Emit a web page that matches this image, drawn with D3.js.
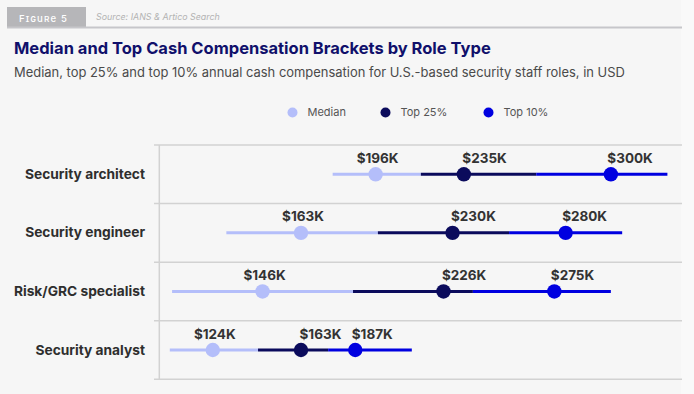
<!DOCTYPE html>
<html>
<head>
<meta charset="utf-8">
<script src="https://cdn.jsdelivr.net/npm/d3@7"></script>
<style>
  html, body { margin: 0; padding: 0; background: #f9f9f9; }
  svg { display: block; font-family: Inter, "Open Sans", sans-serif; }
</style>
</head>
<body>
<svg id="chart" width="694" height="394"></svg>
<script>
// ---- data (values in $K) ----
const roles = ["Security architect", "Security engineer", "Risk/GRC specialist", "Security analyst"];
const median = [196, 163, 146, 124];
const top25 = [235, 230, 226, 163];
const top10 = [300, 280, 275, 187];
// bracket segments drawn behind the dots (light → dark → blue)
const rangeLow = [177, 130, 106, 105];
const break1 = [216, 197, 186, 144];
const break2 = [267, 255, 239, 175];
const rangeHigh = [325, 305, 300, 212];

const seriesNames = ["Median", "Top 25%", "Top 10%"];
const seriesColors = ["#b4befa", "#0b0b5c", "#0000e0"];

const svg = d3.select("#chart");

svg.append("rect").attr("x", 0).attr("y", 0).attr("width", 681).attr("height", 394).attr("fill", "#f6f6f6");

function fitWidth(t, target) {
  const w = t.node().getComputedTextLength();
  const fs = parseFloat(t.attr("font-size"));
  const ls = parseFloat(t.attr("letter-spacing") || 0);
  t.attr("font-size", (fs * target / w).toFixed(2));
  return fs * target / w;
}

// header
svg.append("rect").attr("x", 7).attr("y", 7).attr("width", 79).attr("height", 20).attr("fill", "#b6b6b9");
const fig = svg.append("text").attr("x", 19).attr("y", 21.5).text("Figure 5")
  .attr("fill", "#ffffff").attr("font-size", 11).attr("letter-spacing", 1.2)
  .style("font-variant", "small-caps").attr("font-weight", 500);
fitWidth(fig, 48);
const src = svg.append("text").attr("x", 96).attr("y", 20).text("Source: IANS & Artico Search")
  .attr("fill", "#b3b3b3").attr("font-size", 9.5).attr("font-style", "italic");
fitWidth(src, 124);
svg.append("line").attr("x1", 7).attr("x2", 682).attr("y1", 27.5).attr("y2", 27.5)
  .attr("stroke", "#c6c6ca").attr("stroke-width", 2);

const title = svg.append("text").attr("x", 14).attr("y", 54)
  .text("Median and Top Cash Compensation Brackets by Role Type")
  .attr("fill", "#10106b").attr("font-size", 17).attr("font-weight", 700);
fitWidth(title, 477);
const sub = svg.append("text").attr("x", 14).attr("y", 77)
  .text("Median, top 25% and top 10% annual cash compensation for U.S.-based security staff roles, in USD")
  .attr("fill", "#4a4a4a").attr("font-size", 14);
fitWidth(sub, 611);

// legend
const legendDotX = [292.5, 385.5, 488.5];
const leg = svg.append("g");
seriesNames.forEach((n, i) => {
  leg.append("circle").attr("cx", legendDotX[i]).attr("cy", 112.5).attr("r", 5).attr("fill", seriesColors[i]);
  leg.append("text").attr("x", legendDotX[i] + 15).attr("y", 116.3).text(n)
    .attr("fill", "#555").attr("font-size", 11);
});

// scales
const x = d3.scaleLinear().domain([100, 320]).range([158.5, 656.1]);
const y = d3.scaleBand().domain(roles).range([145, 379.3]);

// gridlines
const edges = roles.map(r => y(r)).concat([y.range()[1]]);
svg.append("g").selectAll("line").data(edges).join("line")
  .attr("x1", 154).attr("x2", 682).attr("y1", d => d).attr("y2", d => d)
  .attr("stroke", "#d2d2d2").attr("stroke-width", 1.5);
svg.append("line").attr("x1", 159.3).attr("x2", 159.3).attr("y1", 145).attr("y2", 379.3)
  .attr("stroke", "#d2d2d2").attr("stroke-width", 1.5);

// row labels
const rowLabels = svg.append("g").selectAll("text").data(roles).join("text")
  .attr("x", 145).attr("y", d => y(d) + y.bandwidth() / 2 + 4.5)
  .attr("text-anchor", "end").attr("font-size", 13).attr("font-weight", 700)
  .attr("fill", "#2e2e2e").text(d => d);
const rowFs = fitWidth(d3.select(rowLabels.nodes()[0]), 120);
rowLabels.attr("font-size", rowFs.toFixed(2));

// rows
const rows = roles.map((r, i) => ({
  role: r,
  segs: [[rangeLow[i], break1[i]], [break1[i], break2[i]], [break2[i], rangeHigh[i]]],
  vals: [median[i], top25[i], top10[i]]
}));

const g = svg.append("g").selectAll("g").data(rows).join("g")
  .attr("transform", d => `translate(0,${y(d.role) + y.bandwidth() / 2})`);

g.selectAll("line.seg").data(d => d.segs).join("line").attr("class", "seg")
  .attr("x1", d => x(d[0])).attr("x2", d => x(d[1])).attr("y1", 0).attr("y2", 0)
  .attr("stroke", (d, i) => seriesColors[i]).attr("stroke-width", 3);

g.selectAll("circle").data(d => d.vals).join("circle")
  .attr("cx", d => x(d)).attr("cy", 0).attr("r", 7.2)
  .attr("fill", (d, i) => seriesColors[i]);

const labelDx = [2, -1.5, -3.5];
const labelAnchor = ["middle", "start", "start"];
g.selectAll("text").data(d => d.vals).join("text")
  .attr("x", (d, i) => x(d) + labelDx[i]).attr("y", -11.5)
  .attr("text-anchor", (d, i) => labelAnchor[i])
  .attr("font-size", 13.5).attr("font-weight", 700).attr("fill", "#333")
  .text(d => `$${d}K`);
</script>
</body>
</html>
